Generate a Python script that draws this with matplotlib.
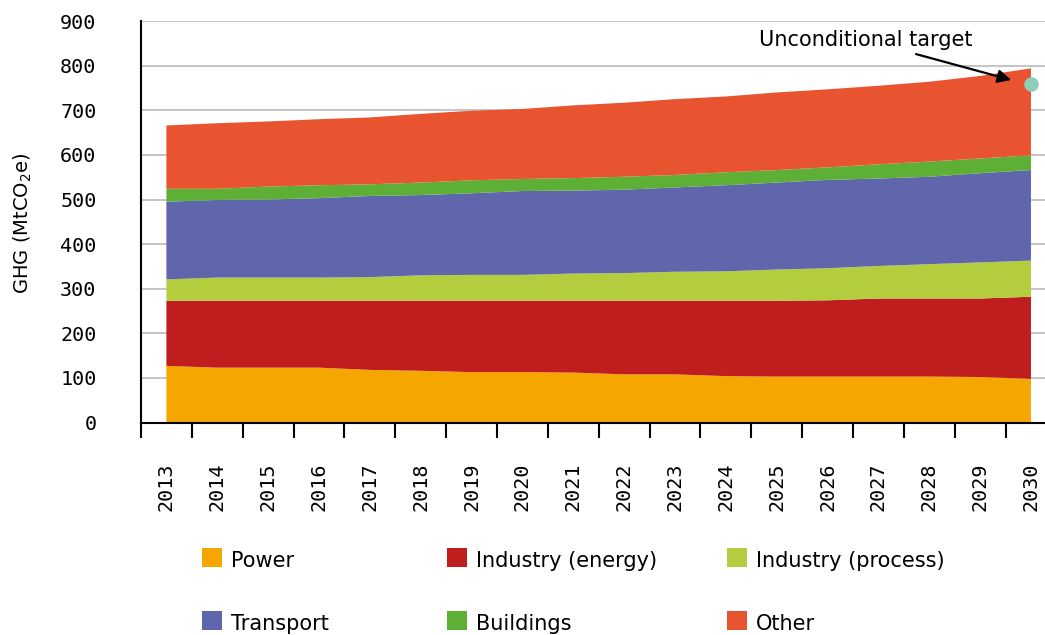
import numpy as np
import matplotlib
matplotlib.use("Agg")
import matplotlib.pyplot as plt
import matplotlib.patches as mpatches

years = [str(y) for y in range(2013, 2031)]

power = [127, 123, 123, 123, 118, 116, 113, 113, 112, 108, 108, 104, 103, 103, 103, 103, 102, 98]
industry_energy = [146, 150, 150, 150, 155, 157, 160, 160, 161, 165, 165, 169, 170, 171, 175, 175, 176, 184]
industry_process = [48, 52, 52, 52, 53, 57, 58, 58, 61, 62, 65, 66, 70, 72, 73, 77, 81, 81]
transport = [174, 174, 175, 178, 182, 180, 183, 188, 186, 187, 189, 193, 195, 198, 196, 196, 200, 203]
buildings = [29, 25, 29, 29, 26, 28, 29, 27, 28, 29, 28, 29, 28, 28, 32, 34, 33, 33]
other = [142, 147, 146, 148, 150, 154, 156, 157, 163, 166, 170, 170, 174, 175, 176, 179, 185, 195]

unconditional_target = 760

names = ["Power", "Industry (energy)", "Industry (process)",
         "Transport", "Buildings", "Other"]
colors = ["#F5A600", "#BF1D1E", "#B4CD3E", "#6066AB", "#5DAF35", "#E95430"]

fig = plt.figure(figsize=(10.45, 6.35), dpi=100)
ax = fig.add_axes([0.1349, 0.3346, 0.876, 0.6322])

x = np.arange(len(years))
ax.stackplot(x, power, industry_energy, industry_process, transport, buildings, other,
             colors=colors, linewidth=0, zorder=2)

# target marker
ax.scatter([x[-1]], [unconditional_target], s=110, color="#8ECDB8",
           zorder=5, clip_on=False, linewidths=0)

ax.annotate("", xy=(16.61, 768), xytext=(14.74, 826),
            arrowprops=dict(arrowstyle="-|>", color="black", lw=1.6,
                            mutation_scale=20, shrinkA=0, shrinkB=0),
            zorder=6)
ax.text(13.76, 858, "Unconditional target", ha="center", va="center",
        fontsize=15, family="DejaVu Sans")

ax.set_xlim(-0.5, len(years) - 0.5)
ax.set_ylim(0, 900)

ax.set_xticks(x)
ax.set_xticklabels(years, rotation=90, family="DejaVu Sans Mono", fontsize=14.5,
                   va="top", ha="center")
ax.set_xticks(np.arange(-0.5, len(years), 1.0), minor=True)
ax.tick_params(axis="x", which="major", length=0, pad=29)
ax.tick_params(axis="x", which="minor", length=11, width=1.5, color="black", direction="out")

ax.set_yticks(np.arange(0, 901, 100))
ax.set_yticklabels([str(v) for v in range(0, 901, 100)], family="DejaVu Sans Mono",
                   fontsize=14.5)
ax.tick_params(axis="y", length=0, pad=32)

ax.grid(axis="y", color="#C4C4C4", lw=1.4)
ax.set_axisbelow(True)

for s in ["top", "right"]:
    ax.spines[s].set_visible(False)
ax.spines["left"].set_linewidth(1.5)
ax.spines["bottom"].set_linewidth(1.5)
ax.spines["left"].set_zorder(4)
ax.spines["bottom"].set_zorder(4)

fig.text(23 / 1045, 1 - 223 / 635, r"GHG (MtCO$_2$e)", rotation=90,
         ha="center", va="center", fontsize=14, family="DejaVu Sans")

# legend, laid out as a 3 x 2 grid
col_x = [202, 447, 727]
row_base = [567, 630]
for i, (name, c) in enumerate(zip(names, colors)):
    px = col_x[i % 3]
    by = row_base[i // 3]
    fig.add_artist(mpatches.Rectangle((px / 1045, 1 - by / 635), 20 / 1045, 19 / 635,
                                      transform=fig.transFigure, color=c, lw=0))
    fig.text((px + 29) / 1045, 1 - by / 635, name, ha="left", va="baseline",
             fontsize=15, family="DejaVu Sans")

fig.savefig("out.png", dpi=100)
